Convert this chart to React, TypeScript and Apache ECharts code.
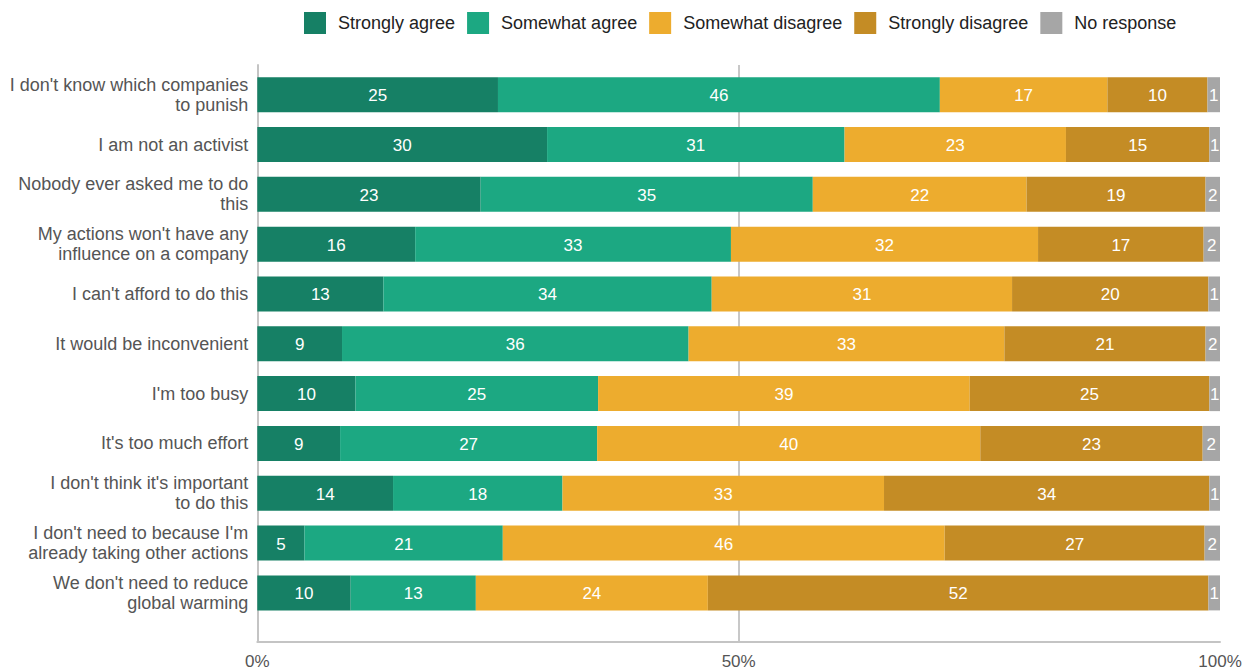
import React, { useEffect, useRef } from "react";
import * as echarts from "echarts";

const categories = [
  "I don't know which companies\nto punish",
  "I am not an activist",
  "Nobody ever asked me to do\nthis",
  "My actions won't have any\ninfluence on a company",
  "I can't afford to do this",
  "It would be inconvenient",
  "I'm too busy",
  "It's too much effort",
  "I don't think it's important\nto do this",
  "I don't need to because I'm\nalready taking other actions",
  "We don't need to reduce\nglobal warming",
];

const stronglyAgree = [25.0, 30.1, 23.2, 16.4, 13.1, 8.8, 10.2, 8.6, 14.1, 4.9, 9.7];
const somewhatAgree = [45.9, 30.9, 34.5, 32.8, 34.1, 36.0, 25.2, 26.7, 17.6, 20.6, 13.0];
const somewhatDisagree = [17.4, 23.0, 22.2, 31.9, 31.2, 32.8, 38.6, 39.8, 33.4, 45.9, 24.1];
const stronglyDisagree = [10.4, 14.9, 18.6, 17.2, 20.4, 20.9, 24.9, 23.1, 33.8, 27.0, 52.0];
const noResponse = [1.3, 1.1, 1.5, 1.7, 1.2, 1.5, 1.1, 1.8, 1.1, 1.6, 1.2];

const seriesNames = ["Strongly agree", "Somewhat agree", "Somewhat disagree", "Strongly disagree", "No response"];
const seriesColors = ["#168065", "#1ca882", "#edac2e", "#c48c25", "#a6a6a6"];
const seriesData = [stronglyAgree, somewhatAgree, somewhatDisagree, stronglyDisagree, noResponse];

const FONT = "'Liberation Sans', Arial, Helvetica, sans-serif";

export default function App() {
  const ref = useRef<HTMLDivElement>(null);

  useEffect(() => {
    document.body.style.margin = "0";
    const chart = echarts.init(ref.current!, null, { renderer: "svg" });
    const axisGray = "#c4c4c4";
    chart.setOption({
      animation: false,
      backgroundColor: "#ffffff",
      textStyle: { fontFamily: FONT },
      legend: {
        left: 304,
        top: 12,
        padding: 0,
        itemWidth: 22,
        itemHeight: 22,
        itemGap: 12,
        icon: "rect",
        textStyle: { fontSize: 18, color: "#222", fontFamily: FONT, padding: [0, 0, 0, 7] },
        data: seriesNames,
      },
      grid: [
        { left: 257.3, right: 25, top: 65, bottom: 28.3 },
        { left: 257.3, right: 25, top: 69.8, bottom: 52.2 },
      ],
      xAxis: [
        {
          type: "value",
          gridIndex: 0,
          min: 0,
          max: 100,
          interval: 50,
          axisLine: { show: true, lineStyle: { color: axisGray, width: 2 } },
          axisTick: { show: false },
          axisLabel: { formatter: "{value}%", fontSize: 17, color: "#555", margin: 11, fontFamily: FONT },
          splitLine: {
            show: true,
            lineStyle: { color: ["rgba(0,0,0,0)", "#c8c8c8", "rgba(0,0,0,0)"], width: 2 },
          },
        },
        {
          type: "value",
          gridIndex: 1,
          min: 0,
          max: 100,
          show: false,
        },
      ],
      yAxis: [
        {
          type: "value",
          gridIndex: 0,
          min: 0,
          max: 1,
          axisLine: { show: true, lineStyle: { color: axisGray, width: 2 } },
          axisTick: { show: false },
          axisLabel: { show: false },
          splitLine: { show: false },
        },
        {
          type: "category",
          gridIndex: 1,
          inverse: true,
          data: categories,
          axisLine: { show: false },
          axisTick: { show: false },
          axisLabel: { fontSize: 18, color: "#555", lineHeight: 20, margin: 9, fontFamily: FONT },
        },
      ],
      series: seriesNames.map((name, i) => ({
        name,
        type: "bar",
        xAxisIndex: 1,
        yAxisIndex: 1,
        stack: "total",
        barWidth: 35,
        itemStyle: { color: seriesColors[i] },
        label: {
          show: true,
          position: "inside",
          color: "#ffffff",
          fontSize: 17,
          fontFamily: FONT,
          offset: [0, 1],
          formatter: (p: any) => String(Math.round(p.value)),
        },
        data: seriesData[i],
      })),
    });
    return () => chart.dispose();
  }, []);

  return <div ref={ref} style={{ width: 1245, height: 670 }} />;
}
